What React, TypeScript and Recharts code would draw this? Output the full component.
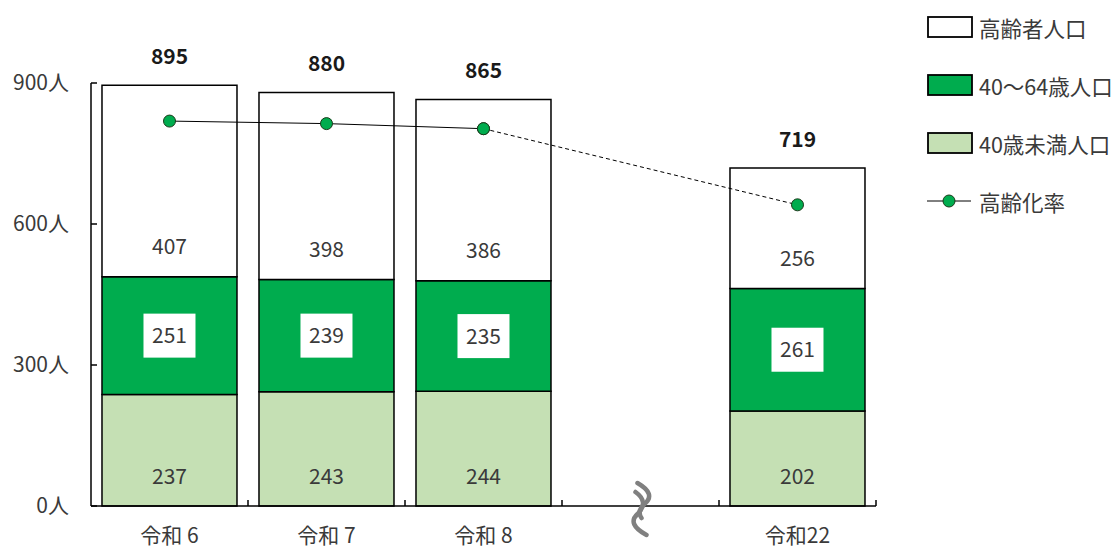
import React from 'react';
import { ComposedChart, Bar, Line, XAxis, YAxis, LabelList, ReferenceDot } from 'recharts';

const categories = ['令和 6', '令和 7', '令和 8', '', '令和22'];
const under40 = [237, 243, 244, null, 202];
const age40to64 = [251, 239, 235, null, 261];
const elderly = [407, 398, 386, null, 256];
const totals = [895, 880, 865, null, 719];
const agingRate = [45.5, 45.2, 44.6, null, 35.6];
const yTicks = [0, 300, 600, 900];

const data = categories.map((c, i) => ({
  cat: c,
  under40: under40[i],
  mid: age40to64[i],
  elderly: elderly[i],
  total: totals[i],
  rateSolid: i <= 2 ? agingRate[i] : null,
  rateDashed: i >= 2 ? agingRate[i] : null,
}));

const FONT = '"Noto Sans CJK JP", "Noto Sans", sans-serif';
const TXT = '#3a3a3a';
const GREEN = '#00AC4E';
const LIGHT = '#C5E0B4';
const FS = 21;

const YTick = (props: any) => {
  const { x, y, payload } = props;
  return (
    <g>
      <line x1={x} x2={x + 6} y1={y} y2={y} stroke="#000" strokeWidth={1.5} />
      <text x={x - 22} y={y} dy={7} textAnchor="end" fontSize={FS} fill={TXT} fontFamily={FONT}>
        {payload.value}人
      </text>
    </g>
  );
};

const XTick = (props: any) => {
  const { x, y, payload } = props;
  const half = payload.offset || 78.5;
  return (
    <g>
      <line x1={x + half} x2={x + half} y1={y} y2={y - 6} stroke="#000" strokeWidth={1.5} />
      <text x={x} y={y + 37} textAnchor="middle" fontSize={FS} fill={TXT} fontFamily={FONT}>
        {payload.value}
      </text>
    </g>
  );
};

const BaseLabel = (props: any) => {
  const { x, y, width, height, value } = props;
  if (value == null) return null;
  const h = Math.abs(height);
  const top = Math.min(y, y + height);
  return (
    <text x={x + width / 2} y={top + h - 30} dy={7.5} textAnchor="middle" fontSize={FS} fill={TXT} fontFamily={FONT}>
      {value}
    </text>
  );
};

const MidLabel = (props: any) => {
  const { x, y, width, height, value } = props;
  if (value == null) return null;
  const top = Math.min(y, y + height);
  const cy = top + Math.abs(height) / 2;
  const cx = x + width / 2;
  return (
    <g>
      <rect x={cx - 26} y={cy - 22} width={52} height={44} fill="#fff" />
      <text x={cx} y={cy} dy={7.5} textAnchor="middle" fontSize={FS} fill={TXT} fontFamily={FONT}>
        {value}
      </text>
    </g>
  );
};

const TotalLabel = (props: any) => {
  const { x, y, width, height, value } = props;
  if (value == null) return null;
  const top = Math.min(y, y + height);
  return (
    <text x={x + width / 2} y={top - 29} dy={7.5} textAnchor="middle" fontSize={FS} fontWeight="bold" fill="#1a1a1a" fontFamily={FONT}>
      {value}
    </text>
  );
};

const BreakMark = (props: any) => {
  const { cx, cy } = props;
  if (cx == null || cy == null) return null;
  return (
    <g>
      <path
        d={`M ${cx - 3} ${cy - 23} Q ${cx + 16} ${cy - 12} ${cx + 4} ${cy - 2} Q ${cx - 4} ${cy + 5} ${cx + 1} ${cy + 12}`}
        fill="none" stroke="#808080" strokeWidth={4.5} strokeLinecap="round"
      />
      <path
        d={`M ${cx - 5} ${cy - 14} Q ${cx + 9} ${cy - 4} ${cx - 3} ${cy + 8} Q ${cx - 14} ${cy + 18} ${cx + 6} ${cy + 29}`}
        fill="none" stroke="#808080" strokeWidth={4.5} strokeLinecap="round"
      />
    </g>
  );
};

const GreenDot = (props: any) => {
  const { cx, cy, value } = props;
  if (cx == null || cy == null || value == null) return null;
  return <circle cx={cx} cy={cy} r={6} fill={GREEN} stroke="#1a3a1a" strokeWidth={1} />;
};

const legendItems = [
  { label: '高齢者人口', type: 'rect', color: '#ffffff' },
  { label: '40～64歳人口', type: 'rect', color: GREEN },
  { label: '40歳未満人口', type: 'rect', color: LIGHT },
  { label: '高齢化率', type: 'line', color: GREEN },
];

const LegendBox = () => (
  <div style={{ position: 'absolute', left: 927, top: -2, fontFamily: FONT }}>
    {legendItems.map((it, i) => (
      <div key={i} style={{ display: 'flex', alignItems: 'center', height: 58 }}>
        <svg width={50} height={24} style={{ display: 'block' }}>
          {it.type === 'rect' ? (
            <rect x={1} y={2} width={44} height={20} fill={it.color} stroke="#000" strokeWidth={1.8} />
          ) : (
            <g>
              <line x1={0} x2={44} y1={12} y2={12} stroke="#000" strokeWidth={1} />
              <circle cx={22} cy={12} r={6} fill={GREEN} stroke="#1a3a1a" strokeWidth={1} />
            </g>
          )}
        </svg>
        <span style={{ fontSize: 21.5, color: TXT, marginLeft: 2, whiteSpace: 'nowrap' }}>{it.label}</span>
      </div>
    ))}
  </div>
);

export default function App() {
  return (
    <div style={{ position: 'absolute', left: 0, top: 0, width: 1116, height: 548, background: '#fff' }}>
      <ComposedChart
        width={1116}
        height={548}
        data={data}
        margin={{ top: 83, right: 240, bottom: 12, left: 11 }}
        barCategoryGap="7%"
      >
        <XAxis
          dataKey="cat"
          height={30}
          axisLine={{ stroke: '#000', strokeWidth: 1.5 }}
          tickLine={false}
          tickSize={0}
          tickMargin={0}
          tick={<XTick />}
          interval={0}
        />
        <YAxis
          yAxisId="left"
          width={80}
          domain={[0, 900]}
          ticks={yTicks}
          axisLine={{ stroke: '#000', strokeWidth: 1.5 }}
          tickLine={false}
          tickSize={0}
          tickMargin={0}
          tick={<YTick />}
          interval={0}
        />
        <YAxis yAxisId="rate" orientation="right" hide domain={[0, 50]} />
        <Bar yAxisId="left" dataKey="under40" stackId="a" fill={LIGHT} stroke="#000" strokeWidth={1.5} isAnimationActive={false}>
          <LabelList dataKey="under40" content={<BaseLabel />} />
        </Bar>
        <Bar yAxisId="left" dataKey="mid" stackId="a" fill={GREEN} stroke="#000" strokeWidth={1.5} isAnimationActive={false}>
          <LabelList dataKey="mid" content={<MidLabel />} />
        </Bar>
        <Bar yAxisId="left" dataKey="elderly" stackId="a" fill="#ffffff" stroke="#000" strokeWidth={1.5} isAnimationActive={false}>
          <LabelList dataKey="elderly" content={<BaseLabel />} />
          <LabelList dataKey="total" content={<TotalLabel />} />
        </Bar>
        <Line
          yAxisId="rate"
          dataKey="rateDashed"
          stroke="#000"
          strokeWidth={1}
          strokeDasharray="4 3"
          connectNulls
          dot={<GreenDot />}
          isAnimationActive={false}
        />
        <Line
          yAxisId="rate"
          dataKey="rateSolid"
          stroke="#000"
          strokeWidth={1}
          connectNulls={false}
          dot={<GreenDot />}
          isAnimationActive={false}
        />
        <ReferenceDot yAxisId="left" x="" y={0} shape={<BreakMark />} ifOverflow="visible" />
      </ComposedChart>
      <LegendBox />
    </div>
  );
}
